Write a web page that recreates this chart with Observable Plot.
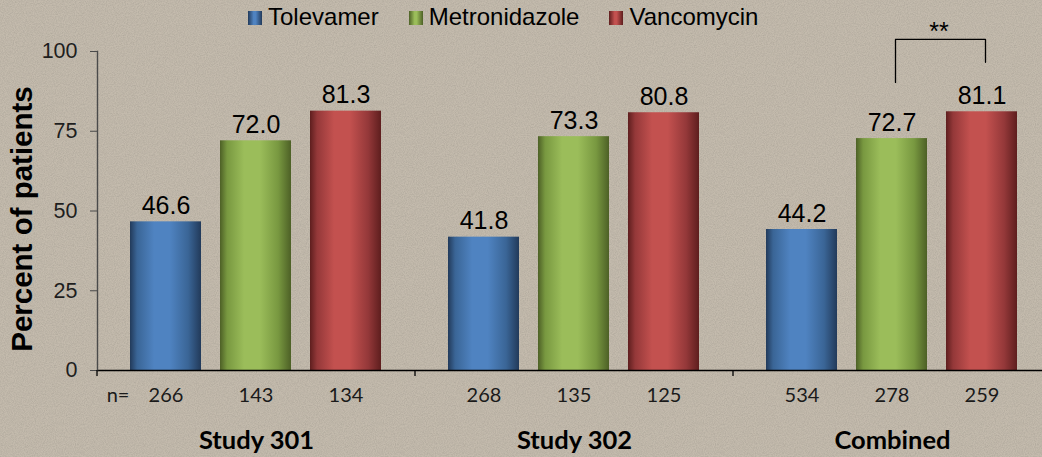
<!DOCTYPE html>
<html>
<head>
<meta charset="utf-8">
<script src="https://cdn.jsdelivr.net/npm/d3@7"></script>
<script src="https://cdn.jsdelivr.net/npm/@observablehq/plot@0.6"></script>
<style>
  html, body { margin: 0; padding: 0; overflow: hidden; }
  body {
    width: 1042px; height: 457px;
    background-color: #c4bbad;
    background-image: url("data:image/svg+xml;utf8,<svg xmlns='http://www.w3.org/2000/svg' width='320' height='320'><filter id='n'><feTurbulence type='fractalNoise' baseFrequency='0.9' numOctaves='3' stitchTiles='stitch'/><feColorMatrix values='0 0 0 0 0.36 0 0 0 0 0.33 0 0 0 0 0.28 0.9 0 0 0 -0.28'/></filter><rect width='100%' height='100%' filter='url(%23n)'/></svg>");
  }
  #chart { position: relative; width: 1042px; height: 457px; overflow: hidden; }
  .legend {
    position: absolute; left: 248px; top: 3px;
    display: flex; gap: 30px; align-items: center;
    font-family: "Liberation Sans", Arial, sans-serif; font-size: 24px; line-height: 28px; color: #000;
  }
  .legend .item { display: flex; align-items: center; gap: 6px; }
  .legend .sw { width: 14px; height: 14px; margin-top: 2px; }
</style>
</head>
<body>
<div id="chart"></div>
<script>
// Clinical success rates by study and treatment arm
const studies = ["Study 301", "Study 302", "Combined"];
const drugs = ["Tolevamer", "Metronidazole", "Vancomycin"];
const tolevamer = [46.6, 41.8, 44.2];
const metronidazole = [72.0, 73.3, 72.7];
const vancomycin = [81.3, 80.8, 81.1];
const nTolevamer = [266, 268, 534];
const nMetronidazole = [143, 135, 278];
const nVancomycin = [134, 125, 259];
const yTicks = [0, 25, 50, 75, 100];
const yLabel = "Percent of patients";
const nPrefix = "n=";
// significance bracket between metronidazole and vancomycin (combined)
const bracket = [
  {drug: "Metronidazole", y: 90.3},
  {drug: "Metronidazole", y: 103.8},
  {drug: "Vancomycin", y: 103.8},
  {drug: "Vancomycin", y: 96.6}
];
const sigMark = "**";

// dark edge / light centre shading for each treatment
const shades = {
  Tolevamer: {id: "gTol", dark: "#223a5a", mid: "#3a6596", light: "#4f83c1"},
  Metronidazole: {id: "gMet", dark: "#4d6026", mid: "#789840", light: "#9bbd5a"},
  Vancomycin: {id: "gVan", dark: "#5e1e1e", mid: "#943839", light: "#c3514f"}
};

const values = [tolevamer, metronidazole, vancomycin];
const counts = [nTolevamer, nMetronidazole, nVancomycin];
const rows = [];
studies.forEach((study, i) => {
  drugs.forEach((drug, j) => {
    rows.push({study, drug, value: values[j][i], n: counts[j][i]});
  });
});

const calibriLike = "Lato, 'Open Sans', sans-serif";

const chart = Plot.plot({
  width: 1042,
  height: 457,
  marginTop: 51,
  marginBottom: 87,
  marginLeft: 97,
  marginRight: -9,
  style: {background: "transparent", overflow: "visible", fontFamily: "'Liberation Sans', Arial, sans-serif"},
  fx: {domain: studies, padding: 0, axis: null, label: null},
  x: {domain: drugs, paddingInner: 0.209, paddingOuter: 0.352, axis: null},
  y: {domain: [0, 100], axis: null},
  color: {domain: drugs, range: drugs.map(d => `url(#${shades[d].id})`)},
  marks: [
    Plot.barY(rows, {fx: "study", x: "drug", y: "value", fill: "drug"}),
    Plot.ruleY([0], {stroke: "#000", strokeWidth: 1.3}),
    Plot.frame({anchor: "left", facetAnchor: "left", stroke: "#4a4a4a", strokeWidth: 1.4}),
    Plot.axisY({ticks: yTicks, tickSize: 7, tickPadding: 13, fontSize: 21.5, label: null, stroke: "#4a4a4a", fill: "#1e1e1e"}),
    Plot.text(rows, {
      fx: "study", x: "drug", y: "value", text: d => d.value.toFixed(1),
      lineAnchor: "bottom", dy: -8, fontSize: 25, fill: "#000"
    }),
    Plot.text(rows, {
      fx: "study", x: "drug", text: "n", frameAnchor: "bottom", lineAnchor: "middle",
      dy: 25, fontSize: 20, fontFamily: calibriLike, fill: "#1a1a1a"
    }),
    Plot.text([nPrefix], {
      fx: () => studies[0], x: () => drugs[0], text: d => d, frameAnchor: "bottom", lineAnchor: "middle",
      dx: -48, dy: 25, fontSize: 20, fontFamily: calibriLike, fill: "#1a1a1a"
    }),
    Plot.text(studies, {
      fx: d => d, text: d => d, frameAnchor: "bottom", lineAnchor: "middle",
      dy: 70, fontSize: 25.5, fontWeight: "bold", fontFamily: calibriLike, fill: "#000"
    }),
    Plot.text([yLabel], {
      fx: () => studies[0], text: d => d, frameAnchor: "left", textAnchor: "middle", lineAnchor: "middle",
      rotate: -90, dx: -75, dy: 8, fontSize: 29.5, fontWeight: "bold", fill: "#000"
    }),
    Plot.line(bracket, {
      fx: () => studies[2], x: "drug", y: "y", dx: 3.5, stroke: "#000", strokeWidth: 1.3
    }),
    Plot.text([sigMark], {
      fx: () => studies[2], x: () => drugs[1], y: () => bracket[1].y, text: d => d,
      lineAnchor: "bottom", dx: 47, dy: 1, fontSize: 25, fill: "#000"
    })
  ]
});

// gradient definitions used by the bar fills
const svg = d3.select(chart);
const defs = svg.insert("defs", ":first-child");
for (const d of drugs) {
  const s = shades[d];
  const g = defs.append("linearGradient").attr("id", s.id).attr("x1", 0).attr("x2", 1).attr("y1", 0).attr("y2", 0);
  [[0, s.dark], [0.1, s.mid], [0.34, s.light], [0.56, s.light], [0.82, s.mid], [1, s.dark]]
    .forEach(([o, c]) => g.append("stop").attr("offset", o).attr("stop-color", c));
}

// small ticks marking the boundaries between study groups on the x axis
const fx = chart.scale("fx");
const y = chart.scale("y");
const y0 = y.apply(0);
svg.append("g").attr("stroke", "#000").attr("stroke-width", 1.3)
  .selectAll("line").data(studies).join("line")
  .attr("x1", d => fx.apply(d)).attr("x2", d => fx.apply(d))
  .attr("y1", y0).attr("y2", y0 + 6);

const container = document.getElementById("chart");
container.appendChild(chart);

// legend above the plot
const legend = document.createElement("div");
legend.className = "legend";
for (const d of drugs) {
  const s = shades[d];
  const item = document.createElement("div");
  item.className = "item";
  const sw = document.createElement("span");
  sw.className = "sw";
  sw.style.background = `linear-gradient(to right, ${s.dark}, ${s.light} 40%, ${s.light} 55%, ${s.dark})`;
  const label = document.createElement("span");
  label.textContent = d;
  item.appendChild(sw);
  item.appendChild(label);
  legend.appendChild(item);
}
container.appendChild(legend);
</script>
</body>
</html>
